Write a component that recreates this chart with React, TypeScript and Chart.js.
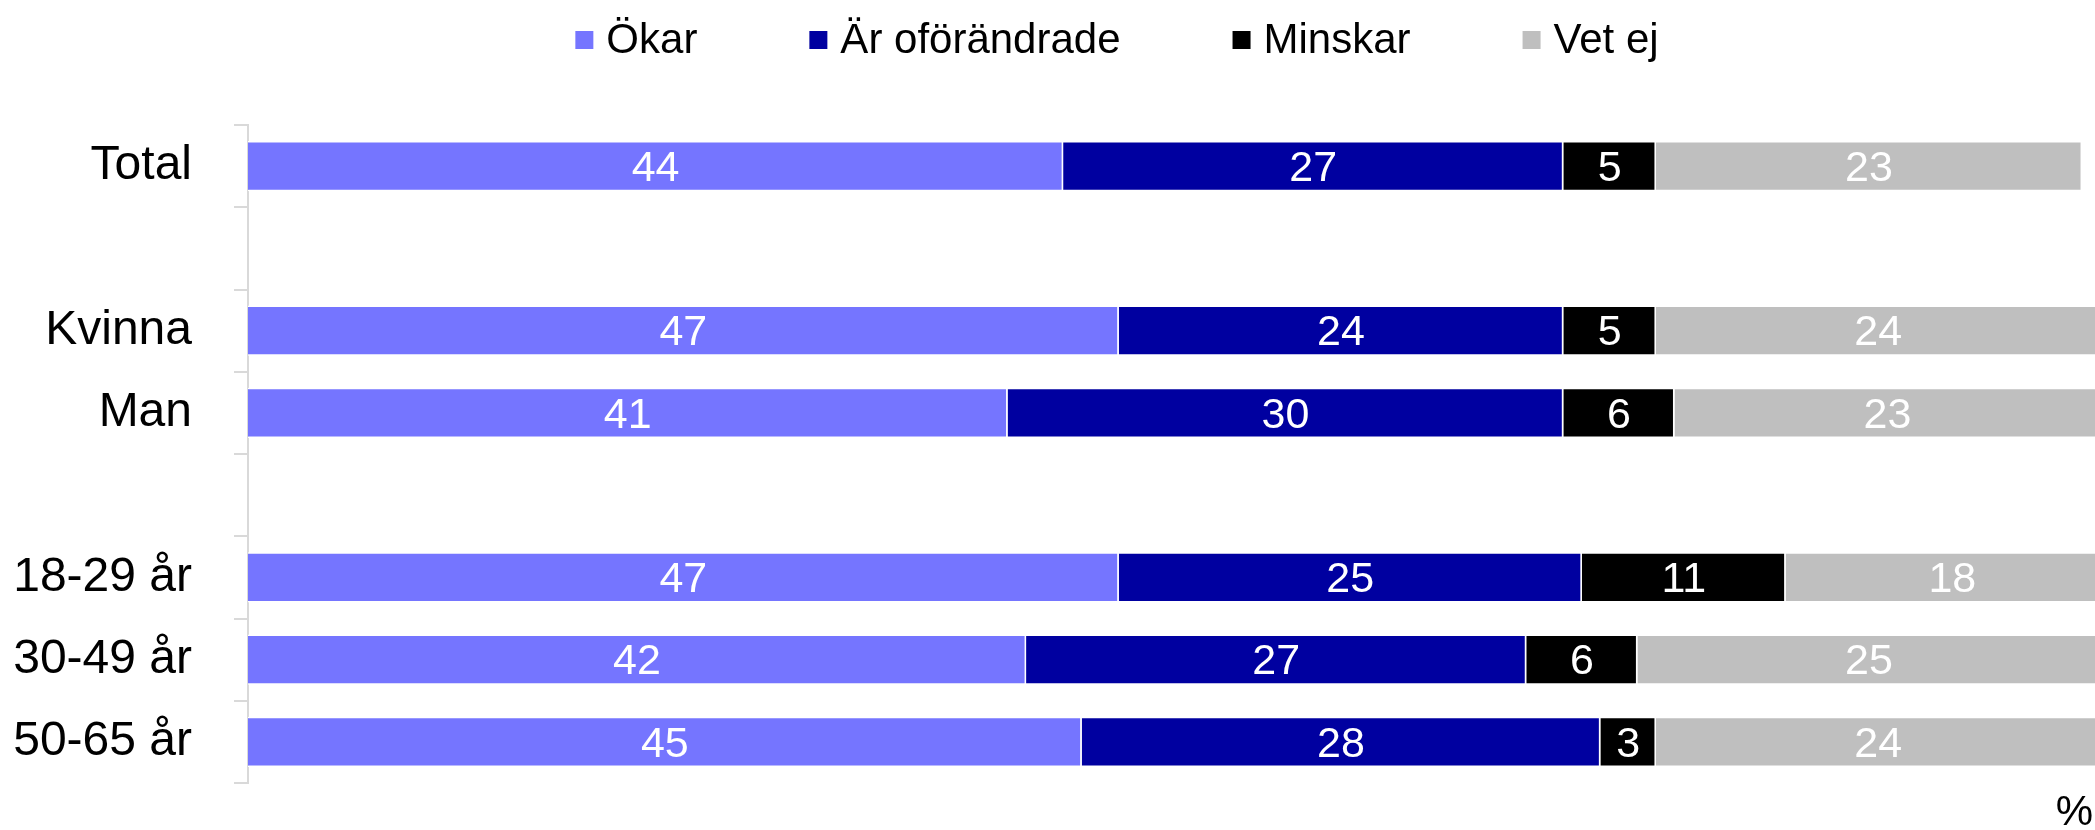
import React, { useEffect, useRef } from 'react';
import { Chart, registerables } from 'chart.js';

Chart.register(...registerables);

const FONT = '"Liberation Sans", Arial, Helvetica, sans-serif';

const categories = ['Total', '', 'Kvinna', 'Man', '', '18-29 år', '30-49 år', '50-65 år'];
const okar = [44, null, 47, 41, null, 47, 42, 45];
const oforandrade = [27, null, 24, 30, null, 25, 27, 28];
const minskar = [5, null, 5, 6, null, 11, 6, 3];
const vetEj = [23, null, 24, 23, null, 18, 25, 24];
const seriesNames = ['Ökar', 'Är oförändrade', 'Minskar', 'Vet ej'];
const seriesColors = ['#7575FF', '#0000A0', '#000000', '#BFBFBF'];
const axisUnit = '%';

const legendPlugin = {
  id: 'customLegend',
  afterDraw(chart: any) {
    const ctx = chart.ctx;
    ctx.save();
    ctx.font = `42px ${FONT}`;
    const box = 18;
    const gapText = 13;
    const gapItem = 112;
    const items = chart.data.datasets.map((ds: any) => ({
      text: ds.label,
      color: ds.backgroundColor,
      w: ctx.measureText(ds.label).width,
    }));
    const total =
      items.reduce((s: number, it: any) => s + box + gapText + it.w, 0) +
      gapItem * (items.length - 1);
    let x = 1117 - total / 2;
    const cy = 40;
    items.forEach((it: any) => {
      ctx.fillStyle = it.color;
      ctx.fillRect(x, cy - 9, box, box);
      ctx.fillStyle = '#000';
      ctx.textBaseline = 'middle';
      ctx.textAlign = 'left';
      ctx.fillText(it.text, x + box + gapText, cy + 1);
      x += box + gapText + it.w + gapItem;
    });
    // axis unit label at bottom right
    ctx.textAlign = 'right';
    ctx.fillText(axisUnit, 2093, 813);
    ctx.restore();
  },
};

const valueLabelPlugin = {
  id: 'valueLabels',
  afterDatasetsDraw(chart: any) {
    const ctx = chart.ctx;
    ctx.save();
    ctx.font = `43px ${FONT}`;
    ctx.fillStyle = '#FFFFFF';
    ctx.textAlign = 'center';
    ctx.textBaseline = 'middle';
    chart.data.datasets.forEach((ds: any, i: number) => {
      const meta = chart.getDatasetMeta(i);
      meta.data.forEach((bar: any, j: number) => {
        const v = ds.data[j];
        if (v === null || v === undefined) return;
        const p = bar.getProps(['x', 'y', 'base'], true);
        ctx.fillText(String(v), (p.x + p.base) / 2, p.y + 3);
      });
    });
    ctx.restore();
  },
};

export default function App() {
  const ref = useRef<HTMLCanvasElement | null>(null);

  useEffect(() => {
    if (!ref.current) return;
    const series = [okar, oforandrade, minskar, vetEj];
    const chart = new Chart(ref.current, {
      type: 'bar',
      data: {
        labels: categories,
        datasets: series.map((d, i) => ({
          label: seriesNames[i],
          data: d,
          backgroundColor: seriesColors[i],
          borderColor: '#FFFFFF',
          borderWidth: 1.5,
          barPercentage: 0.608,
          categoryPercentage: 1,
        })),
      },
      options: {
        indexAxis: 'y',
        animation: false,
        responsive: false,
        maintainAspectRatio: false,
        layout: { padding: { top: 125, left: 0, right: 0, bottom: 47 } },
        plugins: {
          legend: { display: false },
          tooltip: { enabled: false },
        },
        scales: {
          x: {
            stacked: true,
            display: false,
            min: 0,
            max: 99.7,
          },
          y: {
            stacked: true,
            afterFit(scale: any) {
              scale.width = 248;
              scale.paddingTop = 0;
              scale.paddingBottom = 0;
            },
            ticks: {
              color: '#000',
              font: { family: FONT, size: 48 },
              padding: 42,
            },
            grid: {
              display: true,
              drawOnChartArea: false,
              drawTicks: true,
              tickLength: 14,
              color: '#D9D9D9',
              lineWidth: 2,
              offset: true,
            },
            border: { display: true, color: '#D9D9D9', width: 2 },
          },
        },
      },
      plugins: [valueLabelPlugin, legendPlugin],
    });
    return () => chart.destroy();
  }, []);

  return (
    <div style={{ position: 'absolute', left: 0, top: 0, width: 2095, height: 830, background: '#fff' }}>
      <canvas ref={ref} width={2095} height={830} style={{ display: 'block', width: 2095, height: 830 }} />
    </div>
  );
}
